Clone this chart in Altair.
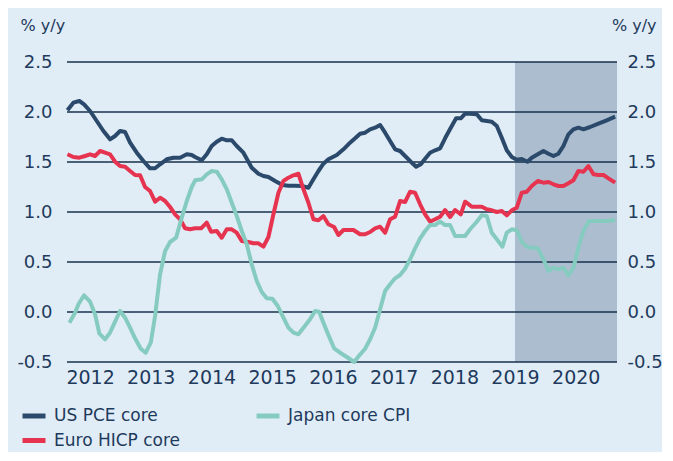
import altair as alt
import pandas as pd

# ---------------- data ----------------
us_year = [2011.627, 2011.725, 2011.824, 2011.901, 2012.0, 2012.110, 2012.220, 2012.329, 2012.412, 2012.494,
           2012.577, 2012.659, 2012.769, 2012.879, 2012.988, 2013.071, 2013.153, 2013.263, 2013.373, 2013.483,
           2013.593, 2013.675, 2013.730, 2013.840, 2013.922, 2014.004, 2014.087, 2014.169, 2014.252, 2014.334,
           2014.416, 2014.526, 2014.663, 2014.773, 2014.856, 2014.938, 2015.048, 2015.169, 2015.267, 2015.377,
           2015.487, 2015.597, 2015.679, 2015.762, 2015.844, 2015.926, 2016.064, 2016.174, 2016.283, 2016.366,
           2016.448, 2016.531, 2016.613, 2016.695, 2016.778, 2016.860, 2016.942, 2017.025, 2017.107, 2017.189,
           2017.283, 2017.371, 2017.448, 2017.519, 2017.601, 2017.684, 2017.766, 2017.848, 2017.942, 2018.030,
           2018.107, 2018.178, 2018.260, 2018.370, 2018.453, 2018.535, 2018.617, 2018.700, 2018.782, 2018.864,
           2018.947, 2019.029, 2019.111, 2019.205, 2019.276, 2019.375, 2019.468, 2019.551, 2019.633, 2019.715,
           2019.797, 2019.880, 2019.962, 2020.044, 2020.127, 2020.237, 2020.374, 2020.511, 2020.649]
us_val = [2.017, 2.093, 2.11, 2.077, 2.01, 1.91, 1.81, 1.727, 1.76, 1.81,
          1.80, 1.693, 1.593, 1.51, 1.437, 1.437, 1.477, 1.527, 1.543, 1.543,
          1.577, 1.57, 1.55, 1.517, 1.577, 1.66, 1.703, 1.733, 1.717, 1.717,
          1.66, 1.593, 1.443, 1.383, 1.36, 1.35, 1.31, 1.27, 1.263, 1.263,
          1.26, 1.243, 1.327, 1.41, 1.483, 1.527, 1.57, 1.627, 1.693, 1.737,
          1.783, 1.793, 1.827, 1.843, 1.87, 1.793, 1.71, 1.627, 1.61, 1.56,
          1.503, 1.453, 1.477, 1.533, 1.593, 1.617, 1.637, 1.737, 1.843, 1.937,
          1.937, 1.983, 1.983, 1.977, 1.917, 1.91, 1.903, 1.86, 1.743, 1.617,
          1.55, 1.523, 1.53, 1.503, 1.543, 1.577, 1.61, 1.583, 1.56, 1.583,
          1.66, 1.777, 1.827, 1.843, 1.827, 1.85, 1.883, 1.917, 1.953]

eu_year = [2011.627, 2011.725, 2011.824, 2011.918, 2012.0, 2012.082, 2012.165, 2012.247, 2012.329, 2012.412,
           2012.494, 2012.577, 2012.659, 2012.741, 2012.824, 2012.906, 2012.988, 2013.071, 2013.153, 2013.236,
           2013.318, 2013.400, 2013.483, 2013.565, 2013.647, 2013.730, 2013.829, 2013.922, 2013.993, 2014.087,
           2014.169, 2014.252, 2014.334, 2014.416, 2014.499, 2014.608, 2014.691, 2014.773, 2014.856, 2014.938,
           2015.020, 2015.103, 2015.185, 2015.267, 2015.350, 2015.432, 2015.515, 2015.597, 2015.679, 2015.762,
           2015.844, 2015.926, 2016.020, 2016.091, 2016.174, 2016.256, 2016.338, 2016.448, 2016.531, 2016.613,
           2016.695, 2016.778, 2016.860, 2016.942, 2017.025, 2017.107, 2017.189, 2017.272, 2017.354, 2017.437,
           2017.519, 2017.601, 2017.684, 2017.766, 2017.848, 2017.931, 2018.013, 2018.107, 2018.178, 2018.288,
           2018.453, 2018.535, 2018.617, 2018.700, 2018.782, 2018.864, 2018.947, 2019.029, 2019.111, 2019.193,
           2019.276, 2019.375, 2019.468, 2019.551, 2019.633, 2019.715, 2019.797, 2019.880, 2019.962, 2020.044,
           2020.127, 2020.209, 2020.292, 2020.374, 2020.457, 2020.539, 2020.649]
eu_val = [1.577, 1.55, 1.543, 1.56, 1.577, 1.56, 1.61, 1.593, 1.577, 1.503,
          1.46, 1.453, 1.41, 1.37, 1.367, 1.25, 1.21, 1.103, 1.143, 1.11,
          1.05, 0.977, 0.927, 0.837, 0.827, 0.837, 0.837, 0.893, 0.803, 0.81,
          0.743, 0.827, 0.827, 0.793, 0.71, 0.70, 0.687, 0.687, 0.653, 0.75,
          0.977, 1.193, 1.31, 1.343, 1.367, 1.383, 1.227, 1.093, 0.927, 0.917,
          0.96, 0.877, 0.85, 0.77, 0.82, 0.82, 0.82, 0.777, 0.777, 0.80,
          0.837, 0.853, 0.793, 0.927, 0.953, 1.11, 1.10, 1.203, 1.193, 1.077,
          0.977, 0.903, 0.927, 0.953, 1.02, 0.95, 1.02, 0.977, 1.103, 1.053,
          1.053, 1.027, 1.017, 1.00, 1.01, 0.967, 1.017, 1.043, 1.193, 1.203,
          1.26, 1.31, 1.293, 1.30, 1.277, 1.26, 1.26, 1.287, 1.317, 1.41,
          1.403, 1.46, 1.377, 1.37, 1.37, 1.337, 1.293]

jp_year = [2011.660, 2011.753, 2011.808, 2011.901, 2012.0, 2012.082, 2012.154, 2012.247, 2012.329, 2012.412,
           2012.494, 2012.577, 2012.659, 2012.741, 2012.835, 2012.917, 2013.000, 2013.071, 2013.153, 2013.236,
           2013.318, 2013.417, 2013.494, 2013.593, 2013.675, 2013.730, 2013.840, 2013.922, 2014.004, 2014.087,
           2014.169, 2014.252, 2014.334, 2014.416, 2014.499, 2014.581, 2014.663, 2014.746, 2014.828, 2014.911,
           2015.004, 2015.092, 2015.185, 2015.267, 2015.350, 2015.432, 2015.515, 2015.624, 2015.707, 2015.773,
           2015.844, 2015.926, 2016.020, 2016.119, 2016.229, 2016.350, 2016.437, 2016.531, 2016.613, 2016.695,
           2016.778, 2016.860, 2016.942, 2017.025, 2017.107, 2017.189, 2017.272, 2017.354, 2017.437, 2017.519,
           2017.601, 2017.684, 2017.766, 2017.848, 2017.931, 2018.013, 2018.096, 2018.178, 2018.260, 2018.370,
           2018.453, 2018.535, 2018.617, 2018.700, 2018.793, 2018.864, 2018.947, 2019.029, 2019.111, 2019.193,
           2019.276, 2019.375, 2019.468, 2019.551, 2019.633, 2019.715, 2019.797, 2019.880, 2019.962, 2020.044,
           2020.127, 2020.220, 2020.346, 2020.511, 2020.649]
jp_val = [-0.107, -0.007, 0.077, 0.167, 0.103, -0.023, -0.217, -0.273, -0.207, -0.097,
          0.01, -0.057, -0.157, -0.263, -0.367, -0.407, -0.307, -0.04, 0.377, 0.61,
          0.70, 0.743, 0.91, 1.11, 1.25, 1.317, 1.327, 1.377, 1.41, 1.403,
          1.327, 1.227, 1.093, 0.96, 0.81, 0.677, 0.477, 0.31, 0.20, 0.137,
          0.133, 0.06, -0.057, -0.157, -0.207, -0.223, -0.157, -0.073, 0.01, 0.003,
          -0.107, -0.23, -0.363, -0.407, -0.45, -0.50, -0.433, -0.367, -0.273, -0.157,
          0.027, 0.21, 0.277, 0.337, 0.37, 0.433, 0.527, 0.637, 0.737, 0.81,
          0.87, 0.87, 0.903, 0.87, 0.87, 0.76, 0.76, 0.76, 0.827, 0.903,
          0.967, 0.96, 0.793, 0.727, 0.653, 0.793, 0.827, 0.817, 0.703, 0.653,
          0.643, 0.637, 0.527, 0.41, 0.443, 0.427, 0.443, 0.367, 0.443, 0.643,
          0.81, 0.91, 0.91, 0.91, 0.92]

series_names = ["US PCE core", "Euro HICP core", "Japan core CPI"]
series_colors = ["#2B4A6B", "#E63450", "#86CBC0"]

x_domain = [2011.62, 2020.68]
y_domain = [-0.5, 2.5]
y_ticks = [-0.5, 0.0, 0.5, 1.0, 1.5, 2.0, 2.5]
x_ticks = [2012, 2013, 2014, 2015, 2016, 2017, 2018, 2019, 2020]
shade_from = [2019.0]
shade_to = [2020.68]

# ---------------- tables ----------------
lines_df = pd.concat([
    pd.DataFrame({"series": "US PCE core", "year": us_year, "value": us_val}),
    pd.DataFrame({"series": "Euro HICP core", "year": eu_year, "value": eu_val}),
    pd.DataFrame({"series": "Japan core CPI", "year": jp_year, "value": jp_val}),
], ignore_index=True)
shade_df = pd.DataFrame({"start": shade_from, "end": shade_to})
grid_df = pd.DataFrame({"v": y_ticks})

TEXT = "#1E3A5C"
FONT = "DejaVu Sans"

x_axis = alt.Axis(values=x_ticks, format="d", labelFontSize=19, labelPadding=6, ticks=False,
                  domain=False, grid=False, labelColor=TEXT, labelFont=FONT, title=None,
                  labelFlush=False)
x_scale = alt.Scale(domain=x_domain, nice=False, zero=False)
y_scale = alt.Scale(domain=y_domain, nice=False, zero=False)
label_expr = "datum.value < 0 ? '-' + format(-datum.value, '.1f') : format(datum.value, '.1f')"

shade = alt.Chart(shade_df).mark_rect(color="#ACBDCF").encode(
    x=alt.X("start:Q", scale=x_scale, axis=x_axis),
    x2="end:Q",
    y=alt.datum(-0.5, scale=y_scale, axis=None),
    y2=alt.datum(2.5),
)

grid_left = alt.Chart(grid_df).mark_rule(color="#16304C", strokeWidth=1.6).encode(
    x=alt.datum(x_domain[0], scale=x_scale, axis=x_axis),
    x2=alt.datum(x_domain[1]),
    y=alt.Y("v:Q", scale=y_scale, axis=alt.Axis(
        values=y_ticks, labelExpr=label_expr, labelFontSize=18, labelPadding=15, ticks=False,
        domain=False, grid=False, labelColor=TEXT, labelFont=FONT,
        title="% y/y", titleAngle=0, titleAlign="left", titleBaseline="alphabetic",
        titleX=-47, titleY=-32, titleFontSize=16, titleFontWeight="normal",
        titleColor=TEXT, titleFont=FONT)),
)

lines = alt.Chart(lines_df).mark_line(strokeWidth=4, strokeJoin="round").encode(
    x=alt.X("year:Q", scale=x_scale, axis=x_axis),
    y=alt.Y("value:Q", scale=y_scale, axis=None),
    color=alt.Color("series:N", scale=alt.Scale(domain=series_names, range=series_colors),
                    sort=series_names,
                    legend=alt.Legend(title=None, orient="none", legendX=-47, legendY=340,
                                      columns=2, symbolType="stroke", symbolStrokeWidth=5,
                                      symbolSize=529, labelFontSize=17, labelOffset=6,
                                      columnPadding=65, rowPadding=0.5, labelColor=TEXT,
                                      labelFont=FONT)),
    detail="series:N",
)

grid_right = alt.Chart(grid_df).mark_rule(opacity=0).encode(
    x=alt.datum(x_domain[0], scale=x_scale, axis=x_axis),
    y=alt.Y("v:Q", scale=y_scale, axis=alt.Axis(
        orient="right", values=y_ticks, labelExpr=label_expr, labelFontSize=18, labelPadding=10,
        ticks=False, domain=False, grid=False, labelColor=TEXT, labelFont=FONT,
        title="% y/y", titleAngle=0, titleAlign="right", titleBaseline="alphabetic",
        titleX=39, titleY=-32, titleFontSize=16, titleFontWeight="normal",
        titleColor=TEXT, titleFont=FONT)),
)

chart = alt.layer(shade, grid_left, lines, grid_right).resolve_axis(y="independent").properties(
    width=550, height=300,
    autosize=alt.AutoSizeParams(type="none"),
    padding={"left": 59, "top": 54, "right": 45, "bottom": 90},
    background="#E1EDF6",
).configure_view(stroke=None)

chart.save("out.html", embed_options={"renderer": "svg", "actions": False})
